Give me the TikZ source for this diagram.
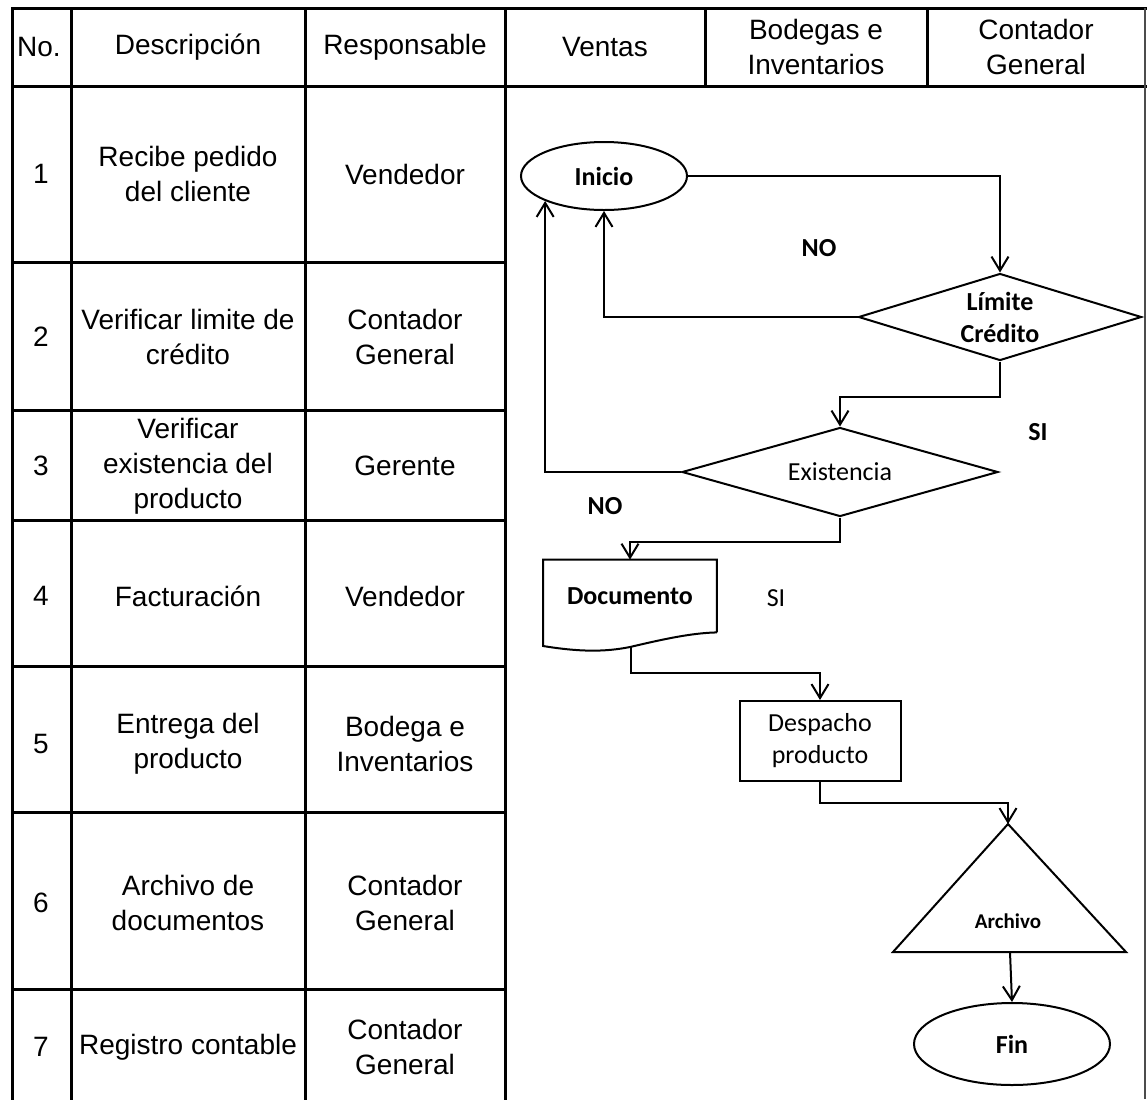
\documentclass[tikz,border=0pt]{standalone}
\usepackage{fontspec}
\setmainfont{Liberation Sans}
\newfontfamily\flowfont{Carlito}
\usetikzlibrary{arrows.meta,shapes.geometric,calc}
\begin{document}
\begin{tikzpicture}[x=0.5pt,y=-0.5pt,
  grid/.style={line width=1.5pt,line cap=rect},
  cell/.style={align=center,inner sep=0pt,font=\fontsize{14}{17.5}\selectfont},
  fline/.style={line width=1pt},
  arr/.style={line width=1pt,-{Straight Barb[length=7pt,width=8.5pt]}},
  term/.style={ellipse,draw,line width=1pt,inner sep=0pt},
  dec/.style={diamond,draw,line width=1pt,inner sep=0pt},
  proc/.style={rectangle,draw,line width=1pt,inner sep=0pt},
  lbl/.style={align=center,inner sep=0pt,font=\flowfont\fontsize{13}{16}\selectfont},
  blbl/.style={align=center,inner sep=0pt,font=\flowfont\bfseries\fontsize{13}{16}\selectfont}
]
\useasboundingbox (0,0) rectangle (1147,1099);

% ---- table grid ----
\draw[grid] (12,8) -- (1145,8);
\draw[grid] (12,86) -- (1145,86);
\foreach \yy in {262,410,520,666,812,989}
  \draw[grid] (12,\yy) -- (505,\yy);
\foreach \xx in {12,71,305,505}
  \draw[grid] (\xx,8) -- (\xx,1099);
\foreach \xx in {705,927}
  \draw[grid] (\xx,8) -- (\xx,86);
\draw[line width=1.2pt,black!70] (1145,8) -- (1145,1099);

% ---- header ----
\node[cell] (hno)   at (39,47)   {No.};
\node[cell] (hdesc) at (188,47)  {Descripción};
\node[cell] (hresp) at (405,47)  {Responsable};
\node[cell] (hven)  at (605,47)  {Ventas};
\node[cell] (hbod)  at (816,47)  {Bodegas e\\Inventarios};
\node[cell] (hcon)  at (1036,47) {Contador\\General};

% ---- rows ----
\node[cell] (n1) at (41,174) {1};
\node[cell] (d1) at (188,174) {Recibe pedido\\del cliente};
\node[cell] (r1) at (405,174) {Vendedor};

\node[cell] (n2) at (41,337) {2};
\node[cell] (d2) at (188,337) {Verificar limite de\\crédito};
\node[cell] (r2) at (405,337) {Contador\\General};

\node[cell] (n3) at (41,466) {3};
\node[cell] (d3) at (188,466) {Verificar\\existencia del\\producto};
\node[cell] (r3) at (405,466) {Gerente};

\node[cell] (n4) at (41,596) {4};
\node[cell] (d4) at (188,596) {Facturación};
\node[cell] (r4) at (405,596) {Vendedor};

\node[cell] (n5) at (41,744) {5};
\node[cell] (d5) at (188,744) {Entrega del\\producto};
\node[cell] (r5) at (405,744) {Bodega e\\Inventarios};

\node[cell] (n6) at (41,903) {6};
\node[cell] (d6) at (188,903) {Archivo de\\documentos};
\node[cell] (r6) at (405,903) {Contador\\General};

\node[cell] (n7) at (41,1047) {7};
\node[cell] (d7) at (188,1047) {Registro contable};
\node[cell] (r7) at (405,1047) {Contador\\General};

% ---- flowchart ----
\node[term,minimum width=83pt,minimum height=34pt] (inicio) at (604,176) {};
\node[blbl] (tinicio) at (inicio) {Inicio};

\node[dec,minimum width=141.5pt,minimum height=43.5pt] (lim) at (1000,317) {};
\node[blbl] (tlim) at (lim) {Límite\\Crédito};

\node[dec,minimum width=158pt,minimum height=44.5pt] (exi) at (840,472) {};
\node[lbl] (texi) at (exi) {Existencia};

% document symbol: straight top and sides, wavy bottom
\node[minimum width=86.5pt,minimum height=36pt,inner sep=0pt] (doc) at (630,596) {};
\draw[fline] (doc.south east) -- (doc.north east) -- (doc.north west) -- (543,646)
  .. controls (580,652) and (605,652) .. (630,647)
  .. controls (660,640) and (690,633) .. (doc.south east);
\node[blbl] (tdoc) at (doc) {Documento};
\coordinate (docout) at (631,647);

\node[proc,minimum width=80.5pt,minimum height=40pt] (desp) at (820,741) {};
\node[lbl] (tdesp) at (desp) {Despacho\\producto};

% archive triangle
\coordinate (archtop) at (1008,824);
\coordinate (archbl) at (893,952);
\coordinate (archbr) at (1126,952);
\coordinate (archbase) at (1010,952);
\draw[fline] (archtop) -- (archbr) -- (archbl) -- cycle;
\node[align=center,inner sep=0pt,font=\flowfont\bfseries\fontsize{10.5}{12}\selectfont] (tarch) at (1008,921) {Archivo};

\node[term,minimum width=98pt,minimum height=41pt] (fin) at (1012,1044) {};
\node[blbl] (tfin) at (fin) {Fin};

% ---- connectors ----
\draw[arr] (inicio.east) -| (lim.north);
\draw[arr] (lim.west) -| (inicio.south);
\draw[arr] (lim.south) -- ++(0,35) -| (exi.north);
\draw[arr] (exi.west) -| (inicio.203);
\draw[arr] (exi.south) -- ++(0,24) -| (doc.north);
\draw[arr] (docout) -- ++(0,26) -| (desp.north);
\draw[arr] (desp.south) -- ++(0,21) -| (archtop);
\draw[arr] (archbase) -- (fin.north);

% ---- branch labels ----
\node[blbl] (no1) at (819,248) {NO};
\node[blbl] (si1) at (1038,432) {SI};
\node[blbl] (no2) at (605,506) {NO};
\node[lbl]  (si2) at (776,598) {SI};
\end{tikzpicture}
\end{document}
